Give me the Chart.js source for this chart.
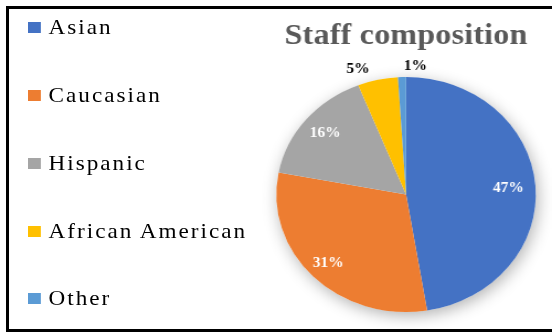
<!DOCTYPE html>
<html>
<head>
<meta charset="utf-8">
<title>Staff composition</title>
<script src="https://cdn.jsdelivr.net/npm/chart.js"></script>
<style>
  html, body { margin: 0; padding: 0; background: #fff; overflow: hidden; }
  body { width: 552px; height: 333px; position: relative; font-family: "Liberation Serif", "Times New Roman", serif; }
  /* the original picture is stretched sideways, so the whole stage is too */
  #stage { position: absolute; left: 0; top: 0; width: 500px; height: 333px; transform: scaleX(1.104); transform-origin: 0 0; }
  #chartBox { position: absolute; left: 0; top: 0; width: 500px; height: 333px; }
  #legend { position: absolute; left: 25px; top: -6px; margin: 0; padding: 0; list-style: none; }
  #legend li { display: flex; align-items: center; height: 67.75px; font-size: 21px; letter-spacing: 1.8px; color: #000; white-space: nowrap; }
  #legend .swatch { width: 12px; height: 11px; margin-right: 7px; flex: none; }
  #frame { position: absolute; left: 6px; top: 6px; width: 600px; height: 320px; border: 3px solid #000; pointer-events: none; }
</style>
</head>
<body>
<div id="stage">
  <div id="chartBox"><canvas id="staffChart"></canvas></div>
  <ul id="legend"></ul>
</div>
<div id="frame"></div>
<script>
const categories = ["Asian", "Caucasian", "Hispanic", "African American", "Other"];
const shares = [47.4, 30.6, 16, 5, 1];
const colors = ["#4472C4", "#ED7D31", "#A5A5A5", "#FFC000", "#5B9BD5"];

// where each percentage label sits, relative to its slice
const labelRadius = [0.79, 0.84, 0.81, 1.13, 1.09];
const labelAngleShift = [1, 0, 0, -6.6, 5.6];
const labelColors = ["#fff", "#fff", "#fff", "#000", "#000"];

document.addEventListener("DOMContentLoaded", function () {
    const legend = document.getElementById("legend");
    legend.innerHTML = categories.map((c, i) =>
        `<li><span class="swatch" style="background:${colors[i]}"></span>${c}</li>`).join("");

    const pieShadow = {
        id: "pieShadow",
        beforeDraw(chart) {
            chart.ctx.letterSpacing = "0.2px";
        },
        beforeDatasetsDraw(chart) {
            const ctx = chart.ctx;
            ctx.letterSpacing = "0px";
            const arc = chart.getDatasetMeta(0).data[0];
            if (!arc) return;
            const { x, y, outerRadius } = arc.getProps(["x", "y", "outerRadius"], true);
            ctx.save();
            ctx.shadowColor = "rgba(0,0,0,0.3)";
            ctx.shadowBlur = 15;
            ctx.shadowOffsetX = 2;
            ctx.shadowOffsetY = 4;
            ctx.fillStyle = "#fff";
            ctx.beginPath();
            ctx.arc(x, y, outerRadius, 0, Math.PI * 2);
            ctx.fill();
            ctx.restore();
        }
    };

    const pieLabels = {
        id: "pieLabels",
        afterDatasetsDraw(chart) {
            const ctx = chart.ctx;
            const data = chart.data.datasets[0].data;
            const total = data.reduce((a, b) => a + b, 0);
            ctx.save();
            ctx.font = "bold 14px 'Liberation Serif', 'Times New Roman', serif";
            ctx.textAlign = "center";
            ctx.textBaseline = "middle";
            chart.getDatasetMeta(0).data.forEach((arc, i) => {
                const { x, y, startAngle, endAngle, outerRadius } =
                    arc.getProps(["x", "y", "startAngle", "endAngle", "outerRadius"], true);
                const a = (startAngle + endAngle) / 2 + labelAngleShift[i] * Math.PI / 180;
                const r = outerRadius * labelRadius[i];
                ctx.fillStyle = labelColors[i];
                ctx.fillText(Math.round(data[i] / total * 100) + "%", x + r * Math.cos(a), y + r * Math.sin(a));
            });
            ctx.restore();
        }
    };

    new Chart(document.getElementById("staffChart"), {
        type: "pie",
        data: {
            labels: categories,
            datasets: [{
                data: shares,
                backgroundColor: colors,
                borderWidth: 0
            }]
        },
        options: {
            responsive: true,
            maintainAspectRatio: false,
            animation: false,
            events: [],
            layout: { padding: { left: 240, right: 4.4, top: 0, bottom: 21 } },
            plugins: {
                legend: { display: false },
                tooltip: { enabled: false },
                title: {
                    display: true,
                    text: "Staff composition",
                    color: "#595959",
                    font: { family: "'Liberation Serif', 'Times New Roman', serif", size: 29, weight: "bold", lineHeight: 1.2 },
                    padding: { top: 19, bottom: 23.2 }
                }
            }
        },
        plugins: [pieShadow, pieLabels]
    });
});
</script>
</body>
</html>
